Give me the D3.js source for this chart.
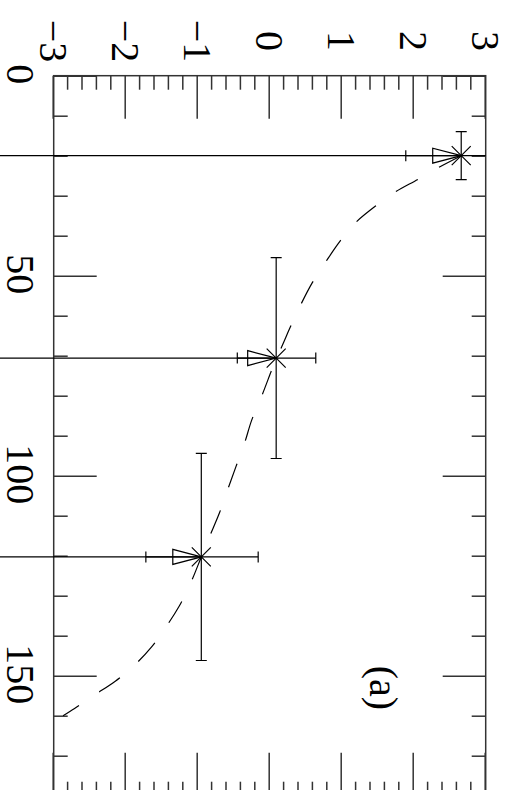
<!DOCTYPE html>
<html>
<head>
<meta charset="utf-8">
<script src="https://cdn.jsdelivr.net/npm/d3@7"></script>
<style>
  body { margin: 0; background: white; }
  svg { display: block; }
</style>
</head>
<body>
<script>
// values read in the chart's own landscape frame (it is shown turned 90deg clockwise)
const xMajor = [0, 50, 100, 150]
const yMajor = [-3, -2, -1, 0, 1, 2, 3]

const pointX = [20, 70.6, 120.3]
const pointY = [2.66, 0.09, -0.95]
const xErr = [6, 25.1, 25.9]
const yLow = [1.89, -0.45, -1.72]
const yHigh = [3.43, 0.64, -0.16]
const dropFrom = -3.75

const curveX = [20, 23, 25.9, 29, 32.6, 36.6, 41.3, 46.5, 51.8, 57.3, 63.1, 68.8, 70.6, 74.4, 80.5, 86.1,
  91.9, 97.8, 103.8, 109.4, 115.4, 120.3, 126.9, 132.7, 137.8, 142.8, 147.4, 151.3, 154.8, 158.2, 160]
const curveY = [2.66, 2.34, 2.06, 1.75, 1.47, 1.2, 0.98, 0.78, 0.59, 0.43, 0.28, 0.14, 0.09, 0.01, -0.12, -0.25,
  -0.35, -0.47, -0.59, -0.7, -0.84, -0.95, -1.1, -1.26, -1.44, -1.64, -1.88, -2.14, -2.43, -2.71, -2.87]

const panelLabel = '(a)'

const W = 790, H = 514
const svg = d3.select('body').append('svg')
  .attr('width', H).attr('height', W)

const g = svg.append('g').attr('transform', `translate(${H},0) rotate(90)`)

const x = d3.scaleLinear().domain([0, 180]).range([75.7, 795.7])
const y = d3.scaleLinear().domain([-3, 3]).range([460.3, 28.3])

const font = '"Liberation Serif", "DejaVu Serif", serif'
const frameColor = '#333'

const xMinor = d3.range(0, 181, 10).filter(v => !xMajor.includes(v))
const yMinor = d3.range(-3, 3.001, 0.2).map(v => +v.toFixed(1)).filter(v => !yMajor.includes(v))

function styleAxis(sel) {
  sel.select('.domain').remove()
  sel.selectAll('line').attr('stroke', frameColor).attr('stroke-width', 1.5)
  sel.selectAll('text').attr('font-family', font).attr('font-size', 40).attr('fill', '#000')
}

// bottom
g.append('g').attr('transform', `translate(0,${y(-3)})`)
  .call(d3.axisBottom(x).tickValues(xMinor).tickSize(-14).tickFormat(''))
  .call(styleAxis)
g.append('g').attr('transform', `translate(0,${y(-3)})`)
  .call(d3.axisBottom(x).tickValues(xMajor).tickSize(-43).tickFormat(d3.format('d')))
  .call(styleAxis)
  .call(s => s.selectAll('text').attr('y', 47).attr('dy', 0).attr('x', -2))
// top
g.append('g').attr('transform', `translate(0,${y(3)})`)
  .call(d3.axisTop(x).tickValues(xMinor).tickSize(-14).tickFormat(''))
  .call(styleAxis)
g.append('g').attr('transform', `translate(0,${y(3)})`)
  .call(d3.axisTop(x).tickValues(xMajor).tickSize(-43).tickFormat(''))
  .call(styleAxis)
// left
g.append('g').attr('transform', `translate(${x(0)},0)`)
  .call(d3.axisLeft(y).tickValues(yMinor).tickSize(-14).tickFormat(''))
  .call(styleAxis)
g.append('g').attr('transform', `translate(${x(0)},0)`)
  .call(d3.axisLeft(y).tickValues(yMajor).tickSize(-43).tickFormat(d3.format('d')))
  .call(styleAxis)
  .call(s => s.selectAll('text').attr('text-anchor', 'middle').attr('x', -34.7).attr('dy', '0.33em'))
// right
g.append('g').attr('transform', `translate(${x(180)},0)`)
  .call(d3.axisRight(y).tickValues(yMinor).tickSize(-14).tickFormat(''))
  .call(styleAxis)
g.append('g').attr('transform', `translate(${x(180)},0)`)
  .call(d3.axisRight(y).tickValues(yMajor).tickSize(-43).tickFormat(''))
  .call(styleAxis)

g.append('rect')
  .attr('x', x(0)).attr('y', y(3))
  .attr('width', x(180) - x(0)).attr('height', y(-3) - y(3))
  .attr('fill', 'none').attr('stroke', frameColor).attr('stroke-width', 1.5)

g.append('clipPath').attr('id', 'frame').append('rect')
  .attr('x', x(0)).attr('y', y(3))
  .attr('width', x(180) - x(0)).attr('height', y(-3) - y(3))

const pts = pointX.map((v, i) => ({x: v, y: pointY[i], xe: xErr[i], lo: yLow[i], hi: yHigh[i]}))

// drop lines from below the frame up to each point
g.append('g').selectAll('line').data(pts).join('line')
  .attr('x1', d => x(d.x)).attr('x2', d => x(d.x))
  .attr('y1', d => y(dropFrom)).attr('y2', d => y(d.y))
  .attr('stroke', '#000').attr('stroke-width', 1.2)

const plot = g.append('g').attr('clip-path', 'url(#frame)')

const line = d3.line().x(d => x(d[0])).y(d => y(d[1])).curve(d3.curveMonotoneX)
plot.append('path')
  .attr('d', line(curveX.map((v, i) => [v, curveY[i]])))
  .attr('fill', 'none').attr('stroke', '#000').attr('stroke-width', 1.2)
  .attr('stroke-dasharray', '25,24.5')

const cap = 5.5
const eb = plot.append('g').attr('stroke', '#000').attr('stroke-width', 1.2).attr('fill', 'none')
pts.forEach(d => {
  const px = x(d.x), py = y(d.y)
  // y error
  eb.append('line').attr('x1', px).attr('x2', px).attr('y1', y(d.lo)).attr('y2', y(d.hi))
  eb.append('line').attr('x1', px - cap).attr('x2', px + cap).attr('y1', y(d.lo)).attr('y2', y(d.lo))
  eb.append('line').attr('x1', px - cap).attr('x2', px + cap).attr('y1', y(d.hi)).attr('y2', y(d.hi))
  // x error
  eb.append('line').attr('x1', x(d.x - d.xe)).attr('x2', x(d.x + d.xe)).attr('y1', py).attr('y2', py)
  eb.append('line').attr('x1', x(d.x - d.xe)).attr('x2', x(d.x - d.xe)).attr('y1', py - cap).attr('y2', py + cap)
  eb.append('line').attr('x1', x(d.x + d.xe)).attr('x2', x(d.x + d.xe)).attr('y1', py - cap).attr('y2', py + cap)
  // open triangle below the point, apex at the point
  eb.append('path').attr('d', `M${px},${py}L${px - 7.5},${py + 28.5}L${px + 7.5},${py + 28.5}Z`)
  // cross
  const s = 9.5
  eb.append('path').attr('d', `M${px - s},${py - s}L${px + s},${py + s}M${px - s},${py + s}L${px + s},${py - s}`)
})

g.append('text')
  .attr('x', 688).attr('y', 144)
  .attr('text-anchor', 'middle')
  .attr('font-family', font).attr('font-size', 40)
  .text(panelLabel)
</script>
</body>
</html>
